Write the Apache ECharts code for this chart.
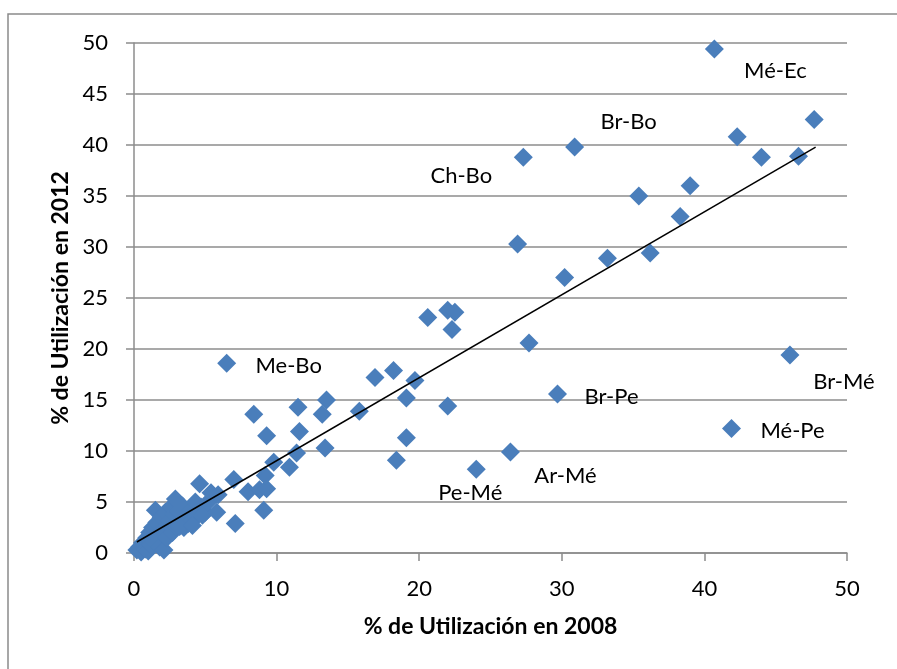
<!DOCTYPE html>
<html>
<head>
<meta charset="utf-8">
<script src="https://cdn.jsdelivr.net/npm/echarts@6/dist/echarts.min.js"></script>
<style>
  html, body { margin: 0; padding: 0; background: #fff; }
  #chart { width: 897px; height: 669px; }
</style>
</head>
<body>
<div id="chart"></div>
<script>
// % de utilización 2008 (x) vs 2012 (y)
var x2008 = [
  0.2, 0.4, 0.5, 0.6, 0.8, 0.9, 1.0, 1.1, 1.2, 1.3, 1.4, 1.5, 1.6, 1.7, 1.8, 1.9, 2.0, 2.1, 2.2, 2.3,
  2.4, 2.5, 2.6, 2.7, 2.8, 2.9, 3.0, 3.1, 3.3, 3.4, 3.5, 3.7, 3.8, 4.0, 4.1, 4.3, 4.4, 4.6, 4.7, 5.0,
  3.2, 4.1, 4.8, 5.2, 5.4, 5.9, 5.8, 7.0, 7.1, 8.0, 8.8, 9.3, 9.1, 9.2, 9.8, 10.9, 11.4, 9.3, 11.6, 13.4,
  8.4, 11.5, 13.5, 13.2, 15.8, 16.9, 18.2, 19.7, 19.1, 19.1, 18.4, 22.0, 20.6, 22.0, 22.5, 22.3, 27.7, 26.9, 30.2, 33.2,
  36.2, 38.3, 35.4, 39.0, 44.0, 46.6, 42.3, 47.7
];
var y2012 = [
  0.3, 0.6, 0.1, 1.0, 0.4, 1.5, 0.2, 2.0, 0.8, 2.5, 1.2, 4.2, 3.0, 1.6, 0.6, 3.5, 2.2, 0.3, 4.0, 1.5,
  2.8, 3.2, 4.5, 2.0, 3.8, 5.3, 2.6, 4.1, 3.0, 4.6, 2.5, 3.6, 2.9, 4.2, 3.2, 5.0, 3.6, 6.8, 4.5, 4.0,
  2.6, 2.7, 3.7, 5.0, 5.9, 5.7, 4.0, 7.2, 2.9, 6.0, 6.2, 6.3, 4.2, 7.6, 8.9, 8.4, 9.8, 11.5, 11.9, 10.3,
  13.6, 14.3, 15.0, 13.6, 13.9, 17.2, 17.9, 16.9, 15.2, 11.3, 9.1, 14.4, 23.1, 23.8, 23.6, 21.9, 20.6, 30.3, 27.0, 28.9,
  29.4, 33.0, 35.0, 36.0, 38.8, 38.9, 40.8, 42.5
];

// etiquetas de pares
var pairNames = ['Mé-Ec', 'Br-Bo', 'Ch-Bo', 'Me-Bo', 'Br-Pe', 'Br-Mé', 'Mé-Pe', 'Ar-Mé', 'Pe-Mé'];
var pairX = [40.7, 30.9, 27.3, 6.5, 29.7, 46.0, 41.9, 26.4, 24.0];
var pairY = [49.4, 39.8, 38.8, 18.6, 15.6, 19.4, 12.2, 9.9, 8.2];

// línea de tendencia
var trendX = [0.2, 47.8];
var trendY = [1.08, 39.8];

var xTicks = [0, 10, 20, 30, 40, 50];
var yTicks = [0, 5, 10, 15, 20, 25, 30, 35, 40, 45, 50];

// desplazamiento de cada etiqueta (px)
var labelOffsets = {
  'Mé-Ec': [61, 22], 'Br-Bo': [54, -25], 'Ch-Bo': [-62, 19], 'Me-Bo': [62, 3],
  'Br-Pe': [54, 3], 'Br-Mé': [54, 27], 'Mé-Pe': [61, 2], 'Ar-Mé': [55, 24], 'Pe-Mé': [-6, 24]
};

var font = 'Lato, "Open Sans", sans-serif';
var blue = '#4A7EBB';

var points = [];
for (var i = 0; i < x2008.length; i++) {
  points.push([x2008[i], y2012[i]]);
}
var labeled = [];
for (var j = 0; j < pairNames.length; j++) {
  labeled.push({
    value: [pairX[j], pairY[j]],
    name: pairNames[j],
    label: { offset: labelOffsets[pairNames[j]] }
  });
}
var trend = [];
for (var k = 0; k < trendX.length; k++) {
  trend.push([trendX[k], trendY[k]]);
}

var myChart = echarts.init(document.getElementById('chart'));
var option = {
  backgroundColor: '#fff',
  animation: false,
  graphic: [{
    type: 'rect',
    shape: { x: 8, y: 14, width: 1000, height: 1000 },
    style: { fill: 'none', stroke: '#8a8a8a', lineWidth: 1.5 },
    silent: true
  }],
  grid: { left: 134, right: 50, top: 43, bottom: 116 },
  xAxis: {
    type: 'value',
    min: xTicks[0],
    max: xTicks[xTicks.length - 1],
    interval: 10,
    name: '% de Utilización en 2008',
    nameLocation: 'middle',
    nameGap: 62,
    nameTextStyle: { fontFamily: font, fontSize: 23, fontWeight: 'bold', color: '#000' },
    axisLine: { lineStyle: { color: '#8c8c8c', width: 1.5 } },
    axisTick: { show: true, length: 8, lineStyle: { color: '#8c8c8c', width: 1.5 } },
    axisLabel: { margin: 25, fontFamily: font, fontSize: 22, color: '#000' },
    splitLine: { show: false }
  },
  yAxis: {
    type: 'value',
    min: yTicks[0],
    max: yTicks[yTicks.length - 1],
    interval: 5,
    name: '% de Utilización en 2012',
    nameLocation: 'middle',
    nameGap: 60,
    nameTextStyle: { fontFamily: font, fontSize: 23, fontWeight: 'bold', color: '#000' },
    axisLine: { show: true, lineStyle: { color: '#8c8c8c', width: 1.5 } },
    axisTick: { show: true, length: 8, lineStyle: { color: '#8c8c8c', width: 1.5 } },
    axisLabel: { margin: 26, fontFamily: font, fontSize: 22, color: '#000' },
    splitLine: { show: true, lineStyle: { color: '#8c8c8c', width: 1.5 } }
  },
  series: [
    {
      type: 'scatter',
      symbol: 'diamond',
      symbolSize: 19,
      itemStyle: { color: blue, opacity: 1 },
      data: points
    },
    {
      type: 'scatter',
      symbol: 'diamond',
      symbolSize: 19,
      itemStyle: { color: blue, opacity: 1 },
      label: {
        show: true,
        position: 'inside',
        formatter: '{b}',
        fontFamily: font,
        fontSize: 22,
        color: '#000'
      },
      data: labeled
    },
    {
      type: 'line',
      data: trend,
      symbol: 'none',
      lineStyle: { color: '#000', width: 1.5 },
      z: 5
    }
  ]
};
myChart.setOption(option);
</script>
</body>
</html>
